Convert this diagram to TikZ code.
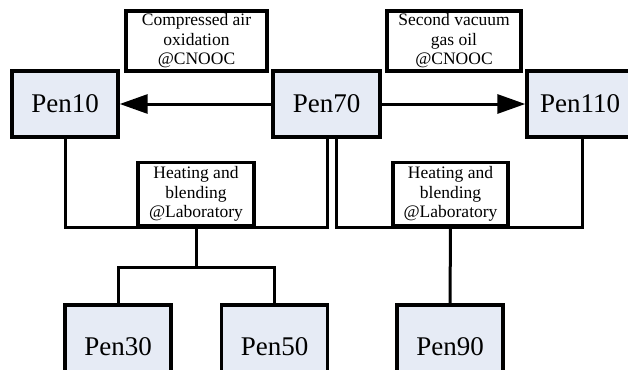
\documentclass[tikz,border=0pt]{standalone}
\usepackage{fontspec}
\setmainfont{Liberation Serif}
\usetikzlibrary{arrows.meta}
\definecolor{penfill}{RGB}{230,235,245}

\tikzset{
    pen/.style={draw, line width=3.4pt, fill=penfill, minimum width=106pt,
        minimum height=66pt, inner sep=0pt, font=\fontsize{27}{30}\selectfont},
    note/.style={draw, line width=3.4pt, fill=white, inner sep=0pt,
        align=center, font=\fontsize{17.5}{19.5}\selectfont},
    link/.style={line width=3pt},
    bigarrow/.style={line width=3pt, -{Triangle[length=28pt,width=19pt]}}
}

\begin{document}
\begin{tikzpicture}[x=1pt,y=-1pt]
        \useasboundingbox (0,0) rectangle (628,369);
        \clip (0,0) rectangle (628,369);

        % top row
        \node[pen] (pen10) at (65,104) {Pen10};
        \node[pen, minimum width=107pt] (pen70) at (326.5,104) {Pen70};
        \node[pen] (pen110) at (580,104) {Pen110};
        \node[note, minimum width=141pt, minimum height=60pt] (air) at (196.5,41) {Compressed air\\oxidation\\@CNOOC};
        \node[note, minimum width=134pt, minimum height=60pt] (vgo) at (454,41) {Second vacuum\\gas oil\\@CNOOC};

        \draw[bigarrow] (pen70) -- (pen10);
        \draw[bigarrow] (pen70) -- (pen110);

        % heating and blending
        \coordinate (jointA) at (327,227);
        \coordinate (jointB) at (336,227);
        \draw[link] (pen10.south) |- (jointA) -- (jointA |- pen70.south);
        \draw[link] (jointB |- pen70.south) -- (jointB) -| ([xshift=2pt]pen110.south);
        \node[note, minimum width=116pt, minimum height=63pt] (heatA) at (196,194) {Heating and\\blending\\@Laboratory};
        \node[note, minimum width=115pt, minimum height=63pt] (heatB) at (450.5,194) {Heating and\\blending\\@Laboratory};

        % bottom row
        \node[pen, minimum height=84pt] (pen30) at (118,347) {Pen30};
        \node[pen, minimum height=84pt] (pen50) at (274.5,347) {Pen50};
        \node[pen, minimum height=84pt] (pen90) at (450,347) {Pen90};

        \coordinate (split) at (196,267);
        \draw[link] (heatA.south) -- (split);
        \draw[link] (pen30.north) |- (split) -| (pen50.north);
        \draw[link] (heatB.south) -- (pen90.north);
\end{tikzpicture}
\end{document}
